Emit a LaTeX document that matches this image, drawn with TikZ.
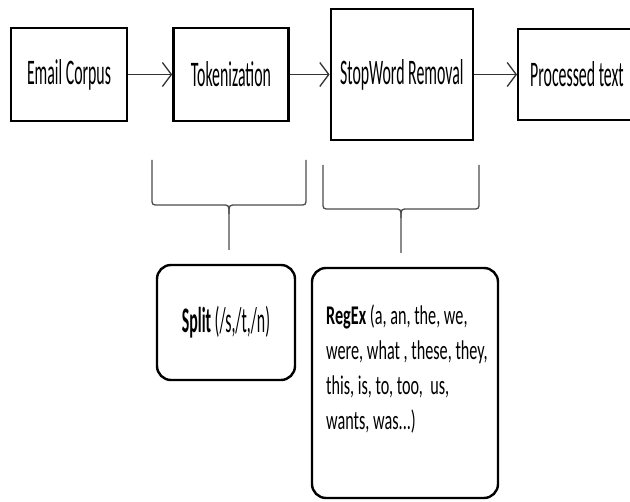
\documentclass[tikz,border=0pt]{standalone}
\usepackage{fontspec}
\setmainfont{Carlito}[FakeStretch=0.44]
\newfontfamily\regexfont{Carlito}[FakeStretch=0.6]
\usetikzlibrary{arrows.meta,positioning}

\begin{document}
\begin{tikzpicture}[x=1pt, y=-1pt, >={Straight Barb[length=9pt,width=24pt]},
  stagebox/.style={draw, line width=2.4pt, inner sep=0pt, minimum height=93pt,
    font=\fontsize{36}{40}\selectfont},
  toolbox/.style={draw, line width=2.4pt, rounded corners=14pt, inner sep=0pt},
  flow/.style={->, line width=1.3pt, black!80},
  bracket/.style={line width=1.3pt, black!70}]
\useasboundingbox (0,0) rectangle (630,502);
\clip (0,0) rectangle (630,502);

% pipeline
\node[stagebox, minimum width=116pt] (email) at (69,74.5) {Email Corpus};
\node[stagebox, minimum width=115pt, right=44pt of email] (token) {Tokenization};
\node[stagebox, minimum width=142pt, minimum height=131pt, right=40pt of token] (stop) {StopWord Removal};
\node[stagebox, minimum height=91pt, inner xsep=12pt, right=43pt of stop] (proc) {Processed text};

\draw[flow] (email) -- (token);
\draw[flow] (token) -- (stop);
\draw[flow] (stop) -- (proc);

% braces
\draw[bracket] (152,160) -- (152,198) .. controls (152,205) .. (159,205) -- (222,205)
  .. controls (229,205) .. (229,214) -- (229,250);
\draw[bracket] (306,160) -- (306,198) .. controls (306,205) .. (299,205) -- (236,205)
  .. controls (229,205) .. (229,214);
\draw[bracket] (323,165) -- (323,202) .. controls (323,209) .. (330,209) -- (394,209)
  .. controls (401,209) .. (401,218) -- (401,253);
\draw[bracket] (479,165) -- (479,202) .. controls (479,209) .. (472,209) -- (408,209)
  .. controls (401,209) .. (401,218);

% tools
\node[toolbox, minimum width=138pt, minimum height=115pt, font=\fontsize{36}{40}\selectfont]
  (split) at (226,322.5) {\textbf{Split} (/s,/t,/n)};
\node[toolbox, minimum width=186pt, minimum height=230pt] (regex) at (405,383) {};
\node[anchor=north west, inner sep=0pt, align=left, font=\regexfont\fontsize{27}{35}\selectfont]
  (regextxt) at (326,305) {\textbf{RegEx} (a, an, the, we,\\ were, what , these, they,\\
  this, is, to, too,\ \ us,\\ wants, was...)};
\end{tikzpicture}
\end{document}
